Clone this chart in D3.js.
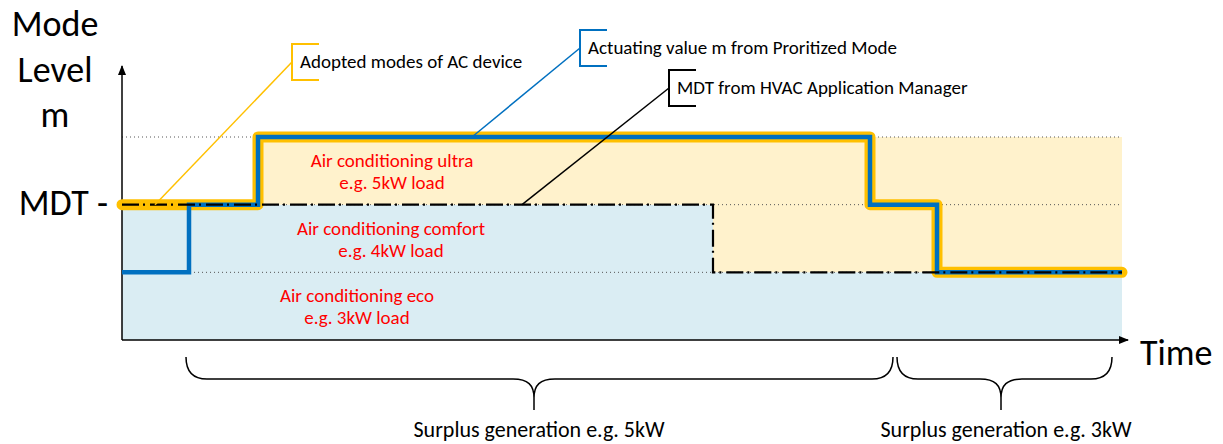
<!DOCTYPE html>
<html><head><meta charset="utf-8">
<script src="https://cdn.jsdelivr.net/npm/d3@7"></script>
<style>
html,body{margin:0;padding:0;background:#fff;}
svg text{font-family:Carlito,Calibri,Lato,sans-serif;}
</style></head>
<body><svg id="c" width="1223" height="444"></svg>
<script>
// ---- data ----
const levels = [1, 2, 3];
const levelNames = ["Air conditioning eco", "Air conditioning comfort", "Air conditioning ultra"];
const levelLoads = ["e.g. 3kW load", "e.g. 4kW load", "e.g. 5kW load"];
const actuatingT = [0, 6.7, 13.6, 74.8, 81.5, 100];
const actuatingM = [1, 2, 3, 2, 1, 1];
const adoptedT = [0, 13.6, 74.8, 81.5, 100];
const adoptedM = [2, 3, 2, 1, 1];
const mdtT = [0, 59.1, 100];
const mdtM = [2, 1, 1];
const surplusLabels = ["Surplus generation e.g. 5kW", "Surplus generation e.g. 3kW"];
const surplusStart = [6.4, 77.5];
const surplusEnd = [77.1, 99];
const surplusTip = [41.2, 87.9];
const callouts = ["Adopted modes of AC device", "Actuating value m from Proritized Mode", "MDT from HVAC Application Manager"];
const yTitle = ["Mode", "Level", "m"];

(function () {
// ---- scales ----
const svg = d3.select("#c");
const x = d3.scaleLinear().domain([0, 100]).range([122, 1122]);
const y = d3.scaleLinear().domain([0, 3]).range([340, 137]);
const zip = (T, M) => T.map((t, i) => ({t, m: M[i]}));
const actuating = zip(actuatingT, actuatingM);
const adopted = zip(adoptedT, adoptedM);
const mdt = zip(mdtT, mdtM);

const YELLOW = "#FFC000", BLUE = "#0070C0", RED = "#FF0000";

// defs
const defs = svg.append("defs");
defs.append("marker").attr("id", "arr").attr("viewBox", "0 0 10 10").attr("refX", 9).attr("refY", 5)
  .attr("markerWidth", 10).attr("markerHeight", 10).attr("markerUnits", "userSpaceOnUse").attr("orient", "auto")
  .append("path").attr("d", "M0,1 L10,5 L0,9 Z").attr("fill", "#000");

// fills
const blueArea = d3.area().curve(d3.curveStepAfter).x(d => x(d.t)).y0(y(0)).y1(d => y(d.m));
svg.append("path").datum(mdt).attr("d", blueArea).attr("fill", "#DAEDF3");
const yellowData = mdt.filter(d => d.t > adoptedT[1]);
yellowData.unshift({t: adoptedT[1], m: 2});
const yellowArea = d3.area().curve(d3.curveStepAfter).x(d => x(d.t)).y0(d => y(d.m)).y1(y(3));
svg.append("path").datum(yellowData).attr("d", yellowArea).attr("fill", "#FFF2CC");

// dotted level lines
svg.append("g").selectAll("line").data(levels).join("line")
  .attr("x1", x(0)).attr("x2", x(100)).attr("y1", d => y(d)).attr("y2", d => y(d))
  .attr("stroke", "#555").attr("stroke-width", 1).attr("stroke-dasharray", "1,3");

// region labels
const labelT = [23.5, 26.9, 27];
svg.append("g").selectAll("text").data(levels).join("text")
  .attr("x", (d, i) => x(labelT[i])).attr("y", d => (y(d) + y(d - 1)) / 2 - 4)
  .attr("text-anchor", "middle").attr("fill", RED).attr("font-size", 19)
  .text((d, i) => levelNames[i]);
svg.append("g").selectAll("text").data(levels).join("text")
  .attr("x", (d, i) => x(labelT[i])).attr("y", d => (y(d) + y(d - 1)) / 2 + 18)
  .attr("text-anchor", "middle").attr("fill", RED).attr("font-size", 19)
  .text((d, i) => levelLoads[i]);

// axes
svg.append("line").attr("x1", x(0)).attr("y1", y(0)).attr("x2", x(0)).attr("y2", 66)
  .attr("stroke", "#000").attr("stroke-width", 1.5).attr("marker-end", "url(#arr)");
svg.append("line").attr("x1", x(0)).attr("y1", y(0)).attr("x2", 1128).attr("y2", y(0))
  .attr("stroke", "#000").attr("stroke-width", 1.5).attr("marker-end", "url(#arr)");

// series lines
const stepLine = d3.line().curve(d3.curveStepAfter).x(d => x(d.t)).y(d => y(d.m));
svg.append("path").datum(adopted).attr("d", stepLine).attr("fill", "none")
  .attr("stroke", YELLOW).attr("stroke-width", 11).attr("stroke-linejoin", "round").attr("stroke-linecap", "round");
svg.append("path").datum(actuating).attr("d", stepLine).attr("fill", "none")
  .attr("stroke", BLUE).attr("stroke-width", 4.5);
svg.append("path").datum(mdt).attr("d", stepLine).attr("fill", "none")
  .attr("stroke", "#000").attr("stroke-width", 2.2).attr("stroke-dasharray", "17,4,2,5");

// callouts
const calloutPos = [
  {bx: 292, by: 44, color: YELLOW, t: 3.3, m: 2},
  {bx: 580, by: 30, color: BLUE, t: 35, m: 3},
  {bx: 669, by: 70, color: "#000", t: 40, m: 2}
];
calloutPos.forEach((c, i) => {
  const g = svg.append("g");
  g.append("line").attr("x1", c.bx).attr("y1", c.by + 18).attr("x2", x(c.t)).attr("y2", y(c.m))
    .attr("stroke", c.color).attr("stroke-width", 1.5);
  g.append("path").attr("d", `M${c.bx + 27},${c.by} H${c.bx} V${c.by + 36} H${c.bx + 27}`)
    .attr("fill", "none").attr("stroke", c.color).attr("stroke-width", 2);
  g.append("text").attr("x", c.bx + 8).attr("y", c.by + 24).attr("font-size", 19).attr("fill", "#000")
    .text(callouts[i]);
});

// y title
svg.append("g").selectAll("text").data(yTitle).join("text")
  .attr("x", 55).attr("y", (d, i) => 36 + i * 45.5).attr("text-anchor", "middle")
  .attr("font-size", 36).attr("fill", "#000").text(d => d);
svg.append("text").attr("x", 108).attr("y", y(2) + 10).attr("text-anchor", "end")
  .attr("font-size", 36).attr("fill", "#000").text("MDT -");
svg.append("text").attr("x", 1140).attr("y", 365).attr("font-size", 36).attr("fill", "#000").text("Time");

// braces
const bTop = 357, bMid = 379, bBot = 410;
surplusLabels.forEach((lab, i) => {
  const x0 = x(surplusStart[i]), x1 = x(surplusEnd[i]), xt = x(surplusTip[i]);
  const r = 21;
  const d = `M${x0},${bTop} C${x0},${bMid - 8} ${x0 + 6},${bMid} ${x0 + r},${bMid} L${xt - r},${bMid} ` +
    `C${xt - 6},${bMid} ${xt},${bMid + 6} ${xt},${bBot - 12} L${xt},${bBot} ` +
    `M${xt},${bBot - 12} C${xt},${bMid + 6} ${xt + 6},${bMid} ${xt + r},${bMid} L${x1 - r},${bMid} ` +
    `C${x1 - 6},${bMid} ${x1},${bMid - 8} ${x1},${bTop}`;
  svg.append("path").attr("d", d).attr("fill", "none").attr("stroke", "#000").attr("stroke-width", 1.5);
  svg.append("text").attr("x", xt + 5).attr("y", 437).attr("text-anchor", "middle")
    .attr("font-size", 22).attr("fill", "#000").text(lab);
});
})();
</script></body></html>
